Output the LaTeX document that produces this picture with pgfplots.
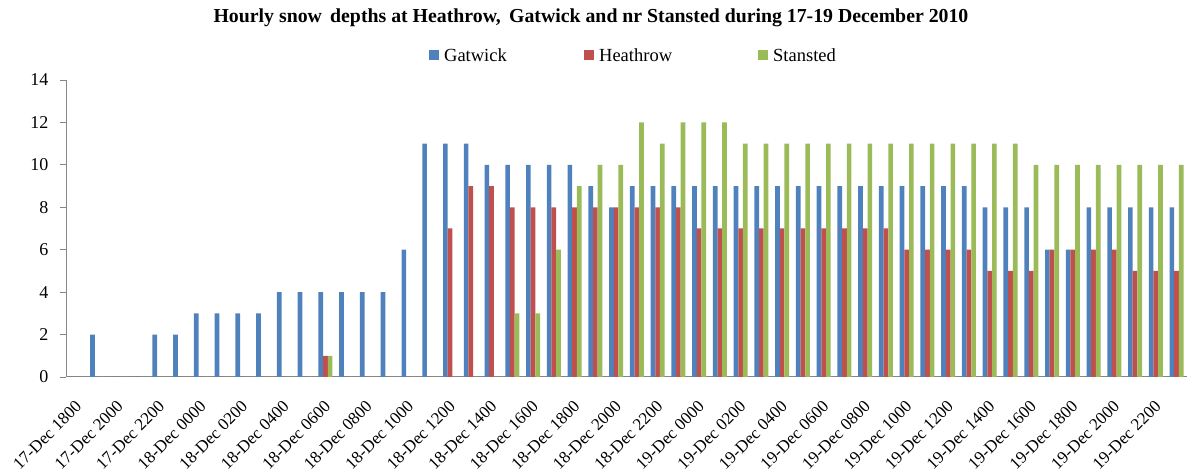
\documentclass[border=0pt]{standalone}
\usepackage{fontspec}
\setmainfont{Liberation Serif}
\usepackage{pgfplots}
\pgfplotsset{compat=1.18}
\usepackage{pgfplotstable}

\definecolor{gatwick}{HTML}{4F81BD}
\definecolor{heathrow}{HTML}{C0504D}
\definecolor{stansted}{HTML}{9BBB59}
\definecolor{axisgray}{HTML}{868686}

% hourly snow depth (cm), 17-Dec 1800 .. 19-Dec 2300
\pgfplotstableread{
x  G  H  S
0  0  0  0
1  2  0  0
2  0  0  0
3  0  0  0
4  2  0  0
5  2  0  0
6  3  0  0
7  3  0  0
8  3  0  0
9  3  0  0
10 4  0  0
11 4  0  0
12 4  1  1
13 4  0  0
14 4  0  0
15 4  0  0
16 6  0  0
17 11 0  0
18 11 7  0
19 11 9  0
20 10 9  0
21 10 8  3
22 10 8  3
23 10 8  6
24 10 8  9
25 9  8  10
26 8  8  10
27 9  8  12
28 9  8  11
29 9  8  12
30 9  7  12
31 9  7  12
32 9  7  11
33 9  7  11
34 9  7  11
35 9  7  11
36 9  7  11
37 9  7  11
38 9  7  11
39 9  7  11
40 9  6  11
41 9  6  11
42 9  6  11
43 9  6  11
44 8  5  11
45 8  5  11
46 8  5  10
47 6  6  10
48 6  6  10
49 8  6  10
50 8  6  10
51 8  5  10
52 8  5  10
53 8  5  10
}\snow

\begin{document}
\begin{tikzpicture}
  \useasboundingbox (0,0) rectangle (1187pt,473pt);
  \node[font=\fontsize{19.8}{22}\selectfont\bfseries] at (591pt,455pt)
    {Hourly snow\, depths at Heathrow,\, Gatwick and nr Stansted during 17-19 December 2010};
  \begin{axis}[
    at={(66pt,96pt)}, anchor=south west,
    scale only axis,
    width=1121pt, height=297pt,
    xmin=-0.5, xmax=53.5,
    ymin=0, ymax=14,
    ytick={0,2,...,14},
    axis x line=bottom, axis y line=left,
    axis line style={-, draw=axisgray, line width=1pt},
    tick align=outside,
    tick style={draw=axisgray, line width=0.8pt},
    y tick label style={font=\fontsize{18}{20}\selectfont, xshift=-8pt},
    major tick length=6pt,
    /pgf/number format/assume math mode=true,
    xtick={0,2,...,52},
    xticklabels={17-Dec 1800,17-Dec 2000,17-Dec 2200,18-Dec 0000,18-Dec 0200,
      18-Dec 0400,18-Dec 0600,18-Dec 0800,18-Dec 1000,18-Dec 1200,18-Dec 1400,
      18-Dec 1600,18-Dec 1800,18-Dec 2000,18-Dec 2200,19-Dec 0000,19-Dec 0200,
      19-Dec 0400,19-Dec 0600,19-Dec 0800,19-Dec 1000,19-Dec 1200,19-Dec 1400,
      19-Dec 1600,19-Dec 1800,19-Dec 2000,19-Dec 2200},
    x tick style={draw=none},
    x tick label style={font=\fontsize{17}{19}\selectfont, xshift=-2pt, yshift=-15pt,
      rotate=45, anchor=north east, inner sep=1pt},
    extra x ticks={-0.5,0.5,...,53.5},
    extra x tick labels={},
    extra x tick style={major tick length=4pt, tick style={draw=axisgray, line width=0.8pt}},
    bar width=0.225,
    ybar,
    legend columns=3,
    legend style={at={(0.3238,1.083)}, anchor=west, draw=none, inner sep=0pt,
      font=\fontsize{18.5}{20}\selectfont},
    legend image code/.code={\fill[#1] (0pt,-5pt) rectangle (10pt,5pt);},
  ]
    \addplot[fill=gatwick, draw=none, bar shift=-0.225] table[x=x, y=G] {\snow};
    \addlegendentry{\makebox[141pt][l]{\hspace{3pt}Gatwick}}
    \addplot[fill=heathrow, draw=none, bar shift=0] table[x=x, y=H] {\snow};
    \addlegendentry{\makebox[160pt][l]{\hspace{3pt}Heathrow}}
    \addplot[fill=stansted, draw=none, bar shift=0.225] table[x=x, y=S] {\snow};
    \addlegendentry{\hspace{3pt}Stansted}
  \end{axis}
\end{tikzpicture}
\end{document}
